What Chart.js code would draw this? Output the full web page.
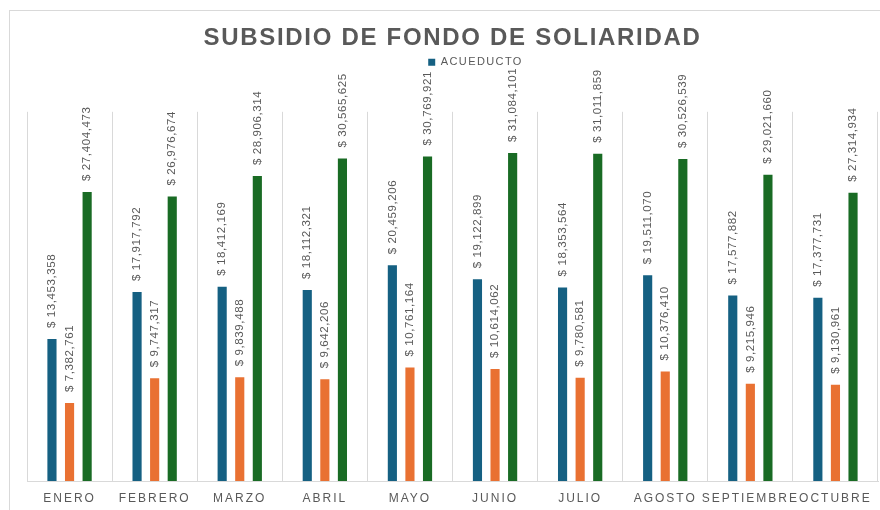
<!DOCTYPE html>
<html>
<head>
<meta charset="utf-8">
<script src="https://cdn.jsdelivr.net/npm/chart.js@4"></script>
<style>
  html, body { margin: 0; padding: 0; background: #ffffff; overflow: hidden; }
  #frame { position: absolute; left: 9px; top: 10px; width: 1000px; height: 1000px;
           border-left: 1px solid #d9d9d9; border-top: 1px solid #d9d9d9; }
  #c { position: absolute; left: 0; top: 0; display: block; }
</style>
</head>
<body>
<div id="frame"></div>
<canvas id="c" width="880" height="510"></canvas>
<script>
const months = ['ENERO', 'FEBRERO', 'MARZO', 'ABRIL', 'MAYO', 'JUNIO', 'JULIO', 'AGOSTO', 'SEPTIEMBRE', 'OCTUBRE'];
const seriesNames = ['ACUEDUCTO', 'ALCANTARILLADO', 'ASEO'];
const acueducto = [13453358, 17917792, 18412169, 18112321, 20459206, 19122899, 18353564, 19511070, 17577882, 17377731];
const alcantarillado = [7382761, 9747317, 9839488, 9642206, 10761164, 10614062, 9780581, 10376410, 9215946, 9130961];
const aseo = [27404473, 26976674, 28906314, 30565625, 30769921, 31084101, 31011859, 30526539, 29021660, 27314934];
const chartTitle = 'SUBSIDIO DE FONDO DE SOLIARIDAD';

const canvas = document.getElementById('c');
const ctx = canvas.getContext('2d');

// letter spacing per font size (title, ticks, legend, value labels)
function spacingFor(font) {
  if (/24px/.test(font)) return '1.7px';
  if (/12px/.test(font)) return '2px';
  if (/11\.5px/.test(font)) return '0.6px';
  if (/11px/.test(font)) return '1.4px';
  return '0px';
}
['fillText', 'strokeText', 'measureText'].forEach(fn => {
  const orig = ctx[fn];
  ctx[fn] = function (...args) {
    if ('letterSpacing' in ctx) ctx.letterSpacing = spacingFor(ctx.font);
    return orig.apply(ctx, args);
  };
});

const fmt = v => '$ ' + v.toLocaleString('en-US');

const valueLabels = {
  id: 'valueLabels',
  afterDatasetsDraw(chart) {
    const c = chart.ctx;
    c.save();
    c.font = "11.5px 'Liberation Sans'";
    c.fillStyle = '#595959';
    c.textAlign = 'left';
    c.textBaseline = 'middle';
    chart.data.datasets.forEach((ds, i) => {
      chart.getDatasetMeta(i).data.forEach((bar, j) => {
        c.save();
        c.translate(bar.x, bar.y - 11);
        c.rotate(-Math.PI / 2);
        c.fillText(fmt(ds.data[j]), 0, 0);
        c.restore();
      });
    });
    c.restore();
  }
};

const legendSpacing = {
  id: 'legendSpacing',
  beforeInit(chart) {
    if (chart.legend) {
      const origFit = chart.legend.fit;
      chart.legend.fit = function () { origFit.call(this); this.height += 34; };
    }
  },
  afterLayout(chart) {
    if (chart.legend) { chart.legend.left += 23; chart.legend.right += 23; }
  }
};

new Chart(ctx, {
  type: 'bar',
  data: {
    labels: months,
    datasets: [
      { label: seriesNames[0], data: acueducto, backgroundColor: '#156082' },
      { label: seriesNames[1], data: alcantarillado, backgroundColor: '#E97132' },
      { label: seriesNames[2], data: aseo, backgroundColor: '#196B24' }
    ]
  },
  options: {
    responsive: false,
    animation: false,
    devicePixelRatio: 1,
    layout: { padding: { top: 10, left: 27, right: 2, bottom: 3 } },
    datasets: { bar: { barPercentage: 0.52, categoryPercentage: 0.62 } },
    plugins: {
      title: {
        display: true,
        text: chartTitle,
        color: '#595959',
        font: { family: "'Liberation Sans'", size: 24, weight: 'bold', lineHeight: 1.2 },
        padding: { top: 14, bottom: 0 }
      },
      legend: {
        display: true,
        position: 'top',
        labels: {
          filter: item => item.datasetIndex === 0,
          boxWidth: 7,
          boxHeight: 7,
          padding: 4,
          color: '#595959',
          font: { family: "'Liberation Sans'", size: 11 }
        }
      },
      tooltip: { enabled: false }
    },
    scales: {
      x: {
        offset: true,
        grid: { display: true, offset: true, color: '#d9d9d9', lineWidth: 1, drawTicks: true, tickLength: 10, tickColor: 'transparent' },
        border: { display: true, color: '#d9d9d9', width: 1 },
        ticks: {
          color: '#595959',
          font: { family: "'Liberation Sans'", size: 12, lineHeight: 1 },
          padding: 2,
          autoSkip: false,
          maxRotation: 0,
          minRotation: 0
        }
      },
      y: {
        display: false,
        min: 0,
        max: 35000000,
        grid: { display: false }
      }
    }
  },
  plugins: [valueLabels, legendSpacing]
});
</script>
</body>
</html>
